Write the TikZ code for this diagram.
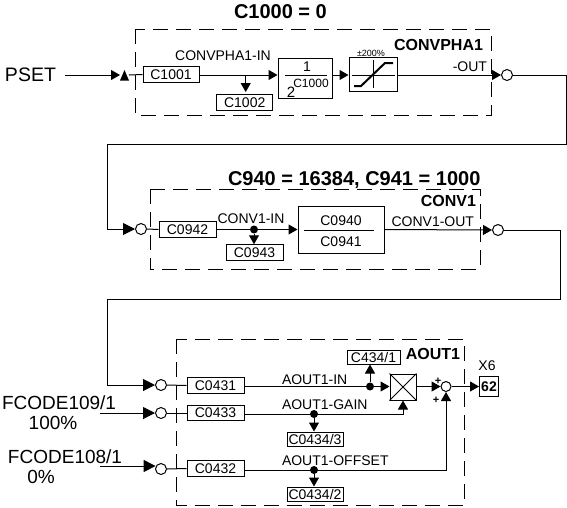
\documentclass[tikz,border=0pt]{standalone}
\usepackage{fontspec}
\setmainfont{Liberation Sans}
\usetikzlibrary{arrows.meta}
\tikzset{
  wire/.style={line width=1pt,draw=black},
  flow/.style={wire,-{Triangle[length=9pt,width=10pt]}},
  flowbig/.style={wire,-{Triangle[length=12pt,width=12pt]}},
  dashbox/.style={line width=1pt,dash pattern=on 15pt off 8pt},
  lbl/.style={inner sep=0pt,outer sep=0pt,text depth=0pt,text height={0.716*#1pt},font=\fontsize{#1}{#1}\selectfont},
  boldlbl/.style={lbl=#1,font=\fontsize{#1}{#1}\selectfont\bfseries},
  cbox/.style={draw,line width=1pt,inner sep=0pt,minimum width=#1,minimum height=15.5pt,font=\fontsize{14}{14}\selectfont},
  block/.style={draw,line width=1pt,inner sep=0pt},
  junction/.style={circle,draw,line width=1pt,inner sep=0pt,minimum size=11pt},
  dotnode/.style={circle,fill=black,inner sep=0pt,minimum size=8pt},
}
\begin{document}
\begin{tikzpicture}[x=1pt,y=-1pt]
\useasboundingbox (0,0) rectangle (567,507);
\fill[white] (0,0) rectangle (567,507);
% function-block frames
\draw[dashbox] (135,29) rectangle (491,115);
\draw[dashbox] (150,189) rectangle (480,269);
\draw[dashbox] (176.5,339) rectangle (464,505);
% titles
\node[boldlbl=20,anchor=west] (t1) at (234,11) {C1000 = 0};
\node[boldlbl=20,anchor=west] (t2) at (228,178) {C940 = 16384, C941 = 1000};
\node[boldlbl=16,anchor=east] (n1) at (483,45) {CONVPHA1};
\node[boldlbl=16,anchor=east] (n2) at (476,201) {CONV1};
\node[boldlbl=16,anchor=east] (n3) at (460,354) {AOUT1};
% outer signals
\node[lbl=19.5,anchor=west] (pset) at (5,75) {PSET};
\node[lbl=19,anchor=west] (f109) at (2,403) {FCODE109/1};
\node[lbl=19] (p100) at (53,423) {100\%};
\node[lbl=19,anchor=west] (f108) at (8,457) {FCODE108/1};
\node[lbl=19] (p0) at (41,477) {0\%};
% first row
\fill (120,80.5) -- (124.5,70) -- (129,80.5) -- cycle;
\coordinate (tri) at (129,75);
\coordinate (psetend) at (120,75);
\coordinate (psetstart) at (65,75);
\node[cbox=56pt] (c1001) at (171,74.5) {C1001};
\node[cbox=56pt] (c1002) at (244.7,102.5) {C1002};
\node[block,minimum width=54pt,minimum height=40pt] (div) at (305,78.5) {};
\node[block,minimum width=48pt,minimum height=34pt] (lim) at (373,74.5) {};
\node[junction] (j1) at (507,75) {};
\coordinate (jc1) at (245.7,75);
\draw[flow] (psetstart) -- (psetend);
\draw[wire] (tri) -- (c1001.west);
\draw[flow] (c1001.east |- jc1) -- (div.west |- jc1);
\draw[flow] (jc1) -- (245.7,92);
\draw[flow] (div.east |- 0,75) -- (lim.west |- 0,75);
\draw[flow] (lim.east |- 0,75) -- (j1.west);
\draw[wire] (285,75) -- (327,75);
\node[lbl=14] (one) at (307,66.5) {1};
\node[lbl=15] (two) at (291,92) {2};
\node[lbl=12] (cexp) at (311,83.5) {C1000};
\draw[line width=.8pt] (352,75) -- (395,75) (373,60) -- (373,88);
\draw[line width=2pt] (354,86) -- (361,86) -- (385,63) -- (393,63);
\node[lbl=9] (pm) at (371,53) {±200\%};
\node[lbl=14] (txa) at (223,55) {CONVPHA1-IN};
\node[lbl=14,anchor=east] (txb) at (487,66) {-OUT};
% link to second row
\node[junction] (j2) at (141,229) {};
\coordinate (r1a) at (566,75);
\coordinate (r1b) at (566,144.5);
\coordinate (r1c) at (107,144.5);
\coordinate (r1d) at (107,229);
\draw[wire] (j1.east) -- (r1a) -- (r1b) -- (r1c) -- (r1d);
\draw[flowbig] (r1d) -- (j2.west);
% second row
\node[cbox=57pt] (c0942) at (187.5,229.5) {C0942};
\node[cbox=57pt] (c0943) at (254.5,252.5) {C0943};
\node[block,minimum width=86pt,minimum height=47pt] (ratio) at (341,229.5) {};
\node[junction] (j3) at (498,230) {};
\node[dotnode] (d2) at (254,229.5) {};
\draw[wire] (j2.east) -- (c0942.west);
\draw[flow] (c0942.east) -- (ratio.west);
\draw[flow] (d2) -- (c0943.north -| d2);
\draw[flow] (ratio.east) -- (j3.west);
\draw[wire] (304,230) -- (374,230);
\node[lbl=14] (c940) at (341,220) {C0940};
\node[lbl=14] (c941) at (341,241) {C0941};
\node[lbl=14] (txc) at (251,218) {CONV1-IN};
\node[lbl=14,anchor=east] (txd) at (474,221) {CONV1-OUT};
% link to third row
\node[junction] (j4) at (161,385) {};
\coordinate (r2a) at (560,230);
\coordinate (r2b) at (560,299.5);
\coordinate (r2c) at (107,299.5);
\coordinate (r2d) at (107,385);
\draw[wire] (j3.east) -- (r2a) -- (r2b) -- (r2c) -- (r2d);
\draw[flowbig] (r2d) -- (j4.west);
% third block
\node[junction] (j5) at (161,413) {};
\node[junction] (j6) at (161,469) {};
\coordinate (s109) at (100,413);
\coordinate (s108) at (100,466);
\draw[flowbig] (s109) -- (j5.west);
\draw[flowbig] (s108) -- (155.6,466);
\node[cbox=57pt] (c0431) at (215.5,385.5) {C0431};
\node[cbox=57pt] (c0433) at (215.5,413) {C0433};
\node[cbox=57pt] (c0432) at (215.5,468.5) {C0432};
\draw[wire] (j4.east) -- (c0431.west);
\draw[wire] (j5.east) -- (c0433.west);
\draw[wire] (j6.east) -- (c0432.west);
\node[block,minimum size=26pt] (mul) at (403,387) {};
\draw[wire] (mul.north west) -- (mul.south east) (mul.north east) -- (mul.south west);
\node[circle,draw,line width=1pt,inner sep=0pt,minimum size=10pt] (sum) at (446,386.5) {};
\node[draw,line width=1pt,inner sep=0pt,minimum width=19pt,minimum height=19.5pt,font=\fontsize{14}{14}\selectfont\bfseries] (x62) at (489,386.5) {62};
\node[lbl=14] (x6) at (487,365) {X6};
\node[dotnode] (d3) at (370,386.5) {};
\node[dotnode] (d4) at (314,414) {};
\node[dotnode] (d5) at (314,470) {};
\node[draw,line width=1pt,inner sep=0pt,minimum width=53pt,minimum height=14pt,font=\fontsize{14}{14}\selectfont] (c4341) at (373.5,357) {C434/1};
\node[draw,line width=1pt,inner sep=0pt,minimum width=56pt,minimum height=14pt,font=\fontsize{14}{14}\selectfont] (c4343) at (315,439) {C0434/3};
\node[draw,line width=1pt,inner sep=0pt,minimum width=56pt,minimum height=14pt,font=\fontsize{14}{14}\selectfont] (c4342) at (315,494) {C0434/2};
\draw[wire] (c0431.east |- d3) -- (d3);
\draw[flow] (d3) -- (mul.west |- d3);
\draw[flow] (d3) -- (c4341.south -| d3);
\draw[flow] (mul.east |- sum) -- (sum.west);
\draw[flow] (sum.east) -- (x62.west);
\draw[flow] (c0433.east |- d4) -- (mul.south |- d4) -- (mul.south);
\draw[flow] (d4) -- (d4 |- c4343.north);
\draw[flow] (c0432.east |- d5) -- (sum.south |- d5) -- (sum.south);
\draw[flow] (d5) -- (d5 |- c4342.north);
\node[lbl=11,font=\fontsize{11}{11}\selectfont\bfseries] (pa) at (438,381) {+};
\node[lbl=11,font=\fontsize{11}{11}\selectfont\bfseries] (pb) at (436,400) {+};
\node[lbl=14,anchor=west] (txe) at (282,379) {AOUT1-IN};
\node[lbl=14,anchor=west] (txf) at (282,404) {AOUT1-GAIN};
\node[lbl=14,anchor=west] (txg) at (282,460) {AOUT1-OFFSET};
\end{tikzpicture}
\end{document}
